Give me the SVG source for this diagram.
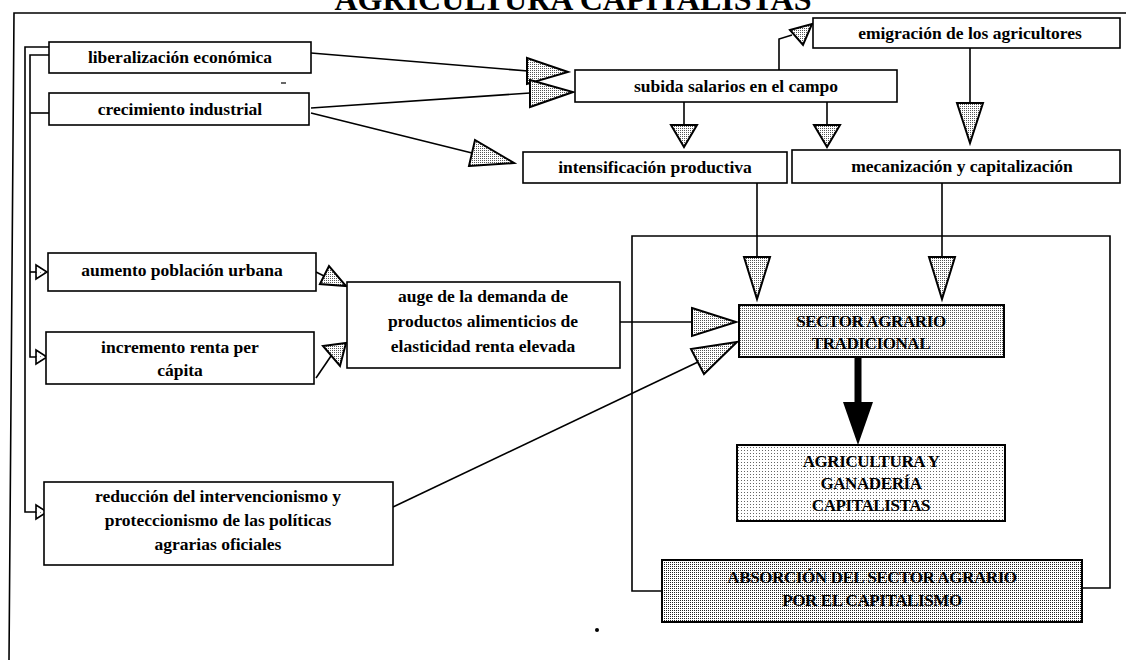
<svg xmlns="http://www.w3.org/2000/svg" width="1126" height="660" viewBox="0 0 1126 660">
<defs>
<pattern id="dots" width="2" height="2" patternUnits="userSpaceOnUse"><rect width="2" height="2" fill="#fff"/><rect width="1" height="1" fill="#555"/></pattern>
<pattern id="dotsLight" width="3" height="3" patternUnits="userSpaceOnUse"><rect width="3" height="3" fill="#fff"/><rect width="1" height="1" fill="#666"/></pattern>
<pattern id="dotsDark" width="2" height="2" patternUnits="userSpaceOnUse"><rect width="2" height="2" fill="#fff"/><rect width="1" height="1" fill="#222"/></pattern>
<pattern id="dotsSparse" width="4" height="4" patternUnits="userSpaceOnUse"><rect width="4" height="4" fill="#fff"/><rect width="1" height="1" fill="#888"/></pattern>
</defs>
<style>
.box{fill:#fff;stroke:#000;stroke-width:1.6}
.t{font-family:"Liberation Serif","Times New Roman",serif;font-weight:bold;font-size:17.5px;fill:#000;text-anchor:middle}
.caps{font-family:"Liberation Serif","Times New Roman",serif;font-weight:bold;font-size:17px;fill:#000;text-anchor:middle;letter-spacing:-0.4px}
.ln{fill:none;stroke:#000;stroke-width:1.6}
.head{fill:url(#dots);stroke:#000;stroke-width:2;stroke-linejoin:miter}
.small{fill:url(#dotsSparse);stroke:#000;stroke-width:1.6}
</style>
<rect width="1126" height="660" fill="#fff"/>

<g id="frame">
<polyline class="ln" points="1126,13 14,13 9,660"/>
<text x="573" y="10" font-family="Liberation Serif, Times New Roman, serif" font-weight="bold" font-size="31" text-anchor="middle" textLength="477" lengthAdjust="spacingAndGlyphs">AGRICULTURA CAPITALISTAS</text>
</g>

<g id="container">
<polyline class="ln" points="662,591 632,591 632,236 1110,236 1110,588 1082,588"/>
</g>

<g id="connectors">
<polyline class="ln" points="49,47 25,47 25,512 36,512"/>
<polyline class="ln" points="49,55 30,55 30,357 36,357"/>
<line class="ln" x1="30" y1="113" x2="49" y2="113"/>
<line class="ln" x1="30" y1="272" x2="36" y2="272"/>
<polygon class="small" points="36,265 47,272 36,279"/>
<polygon class="small" points="36,350 47,357 36,364"/>
<polygon class="small" points="36,505 47,512 36,519"/>

<line class="ln" x1="311" y1="53" x2="528" y2="71"/>
<polygon class="head" points="527,58 568,72 527,84"/>
<line class="ln" x1="311" y1="108" x2="530" y2="93"/>
<polygon class="head" points="530,80 573,92 530,107"/>
<line class="ln" x1="311" y1="113" x2="472" y2="153"/>
<polygon class="head" points="469,166 514,163 475,140"/>

<polyline class="ln" points="779,70 779,39 792,35"/>
<polygon class="head" points="790,30 812,24 803,45"/>
<line class="ln" x1="684" y1="102" x2="684" y2="125"/>
<polygon class="head" points="671,125 697,125 684,147"/>
<line class="ln" x1="827" y1="102" x2="827" y2="125"/>
<polygon class="head" points="814,125 840,125 827,147"/>
<line class="ln" x1="970" y1="48" x2="970" y2="103"/>
<polygon class="head" points="957,103 983,103 970,143"/>
<line class="ln" x1="757" y1="183" x2="757" y2="257"/>
<polygon class="head" points="744,257 770,257 757,299"/>
<line class="ln" x1="942" y1="183" x2="942" y2="257"/>
<polygon class="head" points="929,257 955,257 942,299"/>

<line class="ln" x1="316" y1="272" x2="324" y2="276"/>
<polygon class="head" points="320,284 329,266 346,286"/>
<line class="ln" x1="316" y1="378" x2="331" y2="356"/>
<polygon class="head" points="323,346 346,343 340,366"/>

<line class="ln" x1="620" y1="322" x2="692" y2="322"/>
<polygon class="head" points="692,308 736,322 692,336"/>
<line class="ln" x1="393" y1="507" x2="698" y2="362"/>
<polygon class="head" points="704,374 737,342 691,349"/>

<rect x="854.5" y="357" width="7" height="46" fill="#000"/>
<polygon points="843,402 873,402 858,445" fill="#000"/>

<line x1="281" y1="83" x2="286" y2="83" stroke="#000" stroke-width="1.2"/>
<circle cx="597" cy="630" r="2" fill="#000"/>
</g>

<g id="n-liberalizacion"><rect class="box" x="49" y="42" width="262" height="31"/><text class="t" x="180" y="63">liberalización económica</text></g>
<g id="n-crecimiento"><rect class="box" x="49" y="93" width="260" height="32"/><text class="t" x="180" y="115">crecimiento industrial</text></g>
<g id="n-subida"><rect class="box" x="575" y="70" width="322" height="32"/><text class="t" x="736" y="92">subida salarios en el campo</text></g>
<g id="n-emigracion"><rect class="box" x="813" y="18" width="307" height="30"/><text class="t" x="970" y="39">emigración de los agricultores</text></g>
<g id="n-intensificacion"><rect class="box" x="523" y="152" width="264" height="31"/><text class="t" x="655" y="173">intensificación productiva</text></g>
<g id="n-mecanizacion"><rect class="box" x="792" y="150" width="328" height="33"/><text class="t" x="962" y="172">mecanización y capitalización</text></g>
<g id="n-aumento"><rect class="box" x="48" y="253" width="268" height="38"/><text class="t" x="182" y="276">aumento población urbana</text></g>
<g id="n-incremento"><rect class="box" x="46" y="332" width="268" height="52"/><text class="t" x="180" y="353">incremento renta per</text><text class="t" x="180" y="376">cápita</text></g>
<g id="n-auge"><rect class="box" x="347" y="282" width="273" height="86"/><text class="t" x="483" y="302">auge de la demanda de</text><text class="t" x="483" y="327">productos alimenticios de</text><text class="t" x="483" y="352">elasticidad renta elevada</text></g>
<g id="n-reduccion"><rect class="box" x="44" y="482" width="349" height="83"/><text class="t" x="218" y="502">reducción del intervencionismo y</text><text class="t" x="218" y="526">proteccionismo de las políticas</text><text class="t" x="218" y="550">agrarias oficiales</text></g>
<g id="n-sector"><rect x="739" y="305" width="265" height="52" fill="url(#dots)" stroke="#000" stroke-width="2"/><text class="caps" x="871" y="327">SECTOR AGRARIO</text><text class="caps" x="871" y="349">TRADICIONAL</text></g>
<g id="n-agricultura"><rect x="737" y="445" width="268" height="76" fill="url(#dotsLight)" stroke="#000" stroke-width="2"/><text class="caps" x="871" y="467">AGRICULTURA Y</text><text class="caps" x="871" y="489">GANADERÍA</text><text class="caps" x="871" y="511">CAPITALISTAS</text></g>
<g id="n-absorcion"><rect x="662" y="560" width="420" height="62" fill="url(#dotsDark)" stroke="#000" stroke-width="2"/><text class="caps" x="872" y="583">ABSORCIÓN DEL SECTOR AGRARIO</text><text class="caps" x="872" y="606">POR EL CAPITALISMO</text></g>
</svg>
